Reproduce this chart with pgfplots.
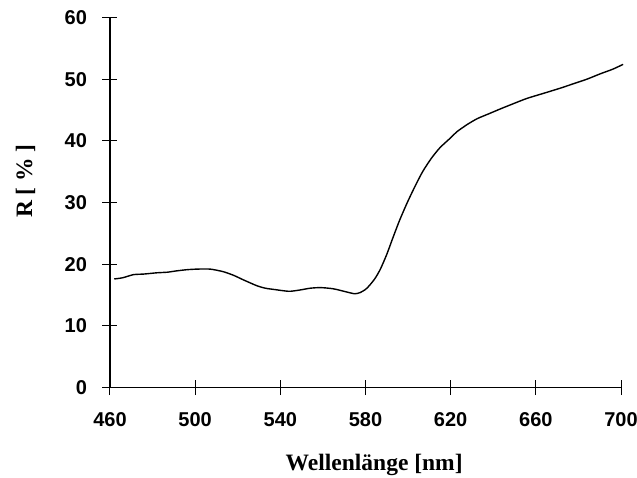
\documentclass[border=0pt]{standalone}
\usepackage{pgfplots}
\pgfplotsset{compat=1.18}
\usepackage{fontspec}
\setmainfont{Liberation Serif}
\setsansfont{Liberation Sans}
\begin{document}
\begin{tikzpicture}
\useasboundingbox (-110pt,-89.5pt) rectangle (527pt,387.5pt);
\begin{axis}[
  at={(0,0)}, anchor=south west, scale only axis,
  width=511pt, height=370pt,
  xmin=460, xmax=700, ymin=0, ymax=60,
  axis lines=left,
  axis line style={line width=1.2pt,-},
  xtick={460,500,...,700}, ytick={0,10,...,60},
  tick align=center, major tick length=15pt,
  tick style={line width=1pt, black},
  ticklabel style={font=\sffamily\bfseries\fontsize{20}{20}\selectfont},
  yticklabel style={xshift=-12pt},
  xticklabel style={yshift=-14pt},
  /pgf/number format/assume math mode=true,
  xlabel={Wellenlänge [nm]}, ylabel={R [ \% ]},
  label style={font=\bfseries\fontsize{23.5}{24}\selectfont},
  xlabel style={at={(axis description cs:0.517,-0.223)}, anchor=base},
  ylabel style={at={(axis description cs:-0.1526,0.558)}, anchor=base},
  clip=false,
]
% Reflexionsspektrum
\addplot[black, line width=1.4pt, smooth, tension=0.4] coordinates {
(462,17.6) (466,17.8) (471,18.3) (476,18.4) (482,18.6) (487,18.7)
(491,18.9) (496,19.1) (501,19.2) (507,19.2) (513,18.8) (518,18.2)
(523,17.4) (529,16.5) (533,16.1) (537,15.9) (544,15.6) (549,15.8)
(554,16.1) (559,16.2) (565,16.0) (571,15.5) (575,15.2) (577.5,15.4)
(580,15.9) (582,16.6) (584.5,17.7) (587,19.2) (590,21.6) (593,24.4)
(596,27.1) (599.5,29.9) (603.5,32.8) (607,35.1) (611,37.2) (615,38.9)
(620,40.5) (623,41.5) (628,42.7) (632.5,43.6) (638,44.4) (643.5,45.2)
(650,46.1) (656,46.9) (665.5,47.9) (672,48.6) (678,49.3) (684,50.0)
(690.5,50.9) (696,51.6) (701,52.4)
};
\end{axis}
\end{tikzpicture}
\end{document}
